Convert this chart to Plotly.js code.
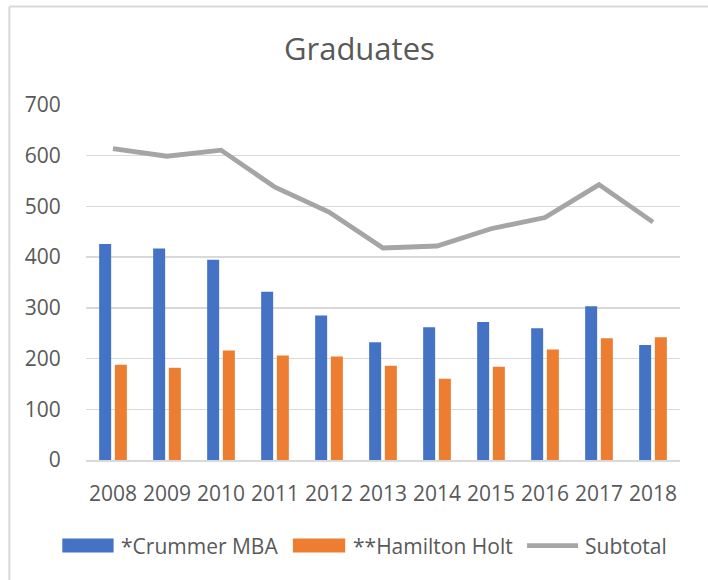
<!DOCTYPE html>
<html>
<head>
<meta charset="utf-8">
<script src="https://cdn.plot.ly/plotly-3.0.1.min.js"></script>
<style>
  html, body { margin: 0; padding: 0; background: #ffffff; }
  #chart { width: 708px; height: 580px; }
</style>
</head>
<body>
<div id="chart"></div>
<script>
// ---- data ----
const years = ['2008','2009','2010','2011','2012','2013','2014','2015','2016','2017','2018'];
const crummerMBA = [426, 417, 395, 332, 285, 232, 262, 272, 260, 303, 227];
const hamiltonHolt = [188, 182, 216, 206, 204, 186, 160, 184, 218, 240, 242];
const subtotal = [614, 599, 611, 538, 489, 418, 422, 456, 478, 543, 469];
const seriesNames = ['*Crummer MBA', '**Hamilton Holt', 'Subtotal'];
const yTicks = [0, 100, 200, 300, 400, 500, 600, 700];

// ---- layout geometry (pixels) ----
const W = 708, H = 580;
const plotL = 85.7, plotR = 680, plotT = 104.7, plotB = 460.3;
const px = x => (x - plotL) / (plotR - plotL);
const py = y => (plotB - y) / (plotB - plotT);

const blue = '#4472C4', orange = '#ED7D31', gray = '#A5A5A5', txt = '#595959', grid = '#D9D9D9';
const font = 'Open Sans, Noto Sans, sans-serif';

const traces = [
  { type: 'bar', name: seriesNames[0], x: years, y: crummerMBA, marker: { color: blue }, hoverinfo: 'x+y+name' },
  { type: 'bar', name: seriesNames[1], x: years, y: hamiltonHolt, marker: { color: orange }, hoverinfo: 'x+y+name' },
  { type: 'scatter', mode: 'lines', name: seriesNames[2], x: years, y: subtotal,
    line: { color: gray, width: 4.8 }, hoverinfo: 'x+y+name' }
];

// custom legend (shapes + annotations)
const legY = 546;
const shapes = [
  // outer frame (left + top edges visible)
  { type: 'line', xref: 'paper', yref: 'paper', x0: px(9), x1: px(9), y0: py(6), y1: py(600), line: { color: grid, width: 2 } },
  { type: 'line', xref: 'paper', yref: 'paper', x0: px(9), x1: px(730), y0: py(6), y1: py(6), line: { color: grid, width: 2 } },
  // legend swatches
  { type: 'rect', xref: 'paper', yref: 'paper', x0: px(62), x1: px(113.3), y0: py(539), y1: py(553), fillcolor: blue, line: { width: 0 } },
  { type: 'rect', xref: 'paper', yref: 'paper', x0: px(292.7), x1: px(345), y0: py(539), y1: py(553), fillcolor: orange, line: { width: 0 } },
  { type: 'line', xref: 'paper', yref: 'paper', x0: px(527), x1: px(578), y0: py(legY), y1: py(legY), line: { color: gray, width: 4.8 } }
];
const annotations = [
  { xref: 'paper', yref: 'paper', x: px(119), y: py(legY), xanchor: 'left', yanchor: 'middle', showarrow: false,
    text: seriesNames[0], font: { family: font, size: 21, color: txt } },
  { xref: 'paper', yref: 'paper', x: px(350.5), y: py(legY), xanchor: 'left', yanchor: 'middle', showarrow: false,
    text: seriesNames[1], font: { family: font, size: 21, color: txt } },
  { xref: 'paper', yref: 'paper', x: px(583), y: py(legY), xanchor: 'left', yanchor: 'middle', showarrow: false,
    text: seriesNames[2], font: { family: font, size: 21, color: txt } }
];

const layout = {
  width: W, height: H,
  margin: { l: plotL, r: W - plotR, t: plotT, b: H - plotB, pad: 0 },
  paper_bgcolor: '#ffffff', plot_bgcolor: '#ffffff',
  title: { text: 'Graduates', xref: 'container', yref: 'container', x: 359.4 / W, y: 1 - 49 / H,
    xanchor: 'center', yanchor: 'middle', font: { family: font, size: 31, color: txt } },
  barmode: 'group', bargap: 0.419, bargroupgap: 0.236,
  showlegend: false,
  font: { family: font, color: txt },
  xaxis: {
    type: 'category', showgrid: false, zeroline: false,
    showline: true, linecolor: grid, linewidth: 1.5,
    ticks: 'outside', ticklen: 14, tickcolor: 'rgba(0,0,0,0)',
    tickfont: { family: font, size: 21, color: txt }, fixedrange: true
  },
  yaxis: {
    range: [0, 700], tickvals: yTicks, ticktext: yTicks.map(String),
    showgrid: true, gridcolor: grid, gridwidth: 1.3, zeroline: false, showline: false,
    ticks: 'outside', ticklen: 20, tickcolor: 'rgba(0,0,0,0)',
    tickfont: { family: font, size: 21, color: txt }, fixedrange: true
  },
  shapes: shapes,
  annotations: annotations
};

Plotly.newPlot('chart', traces, layout, { displayModeBar: false, staticPlot: true });
</script>
</body>
</html>
